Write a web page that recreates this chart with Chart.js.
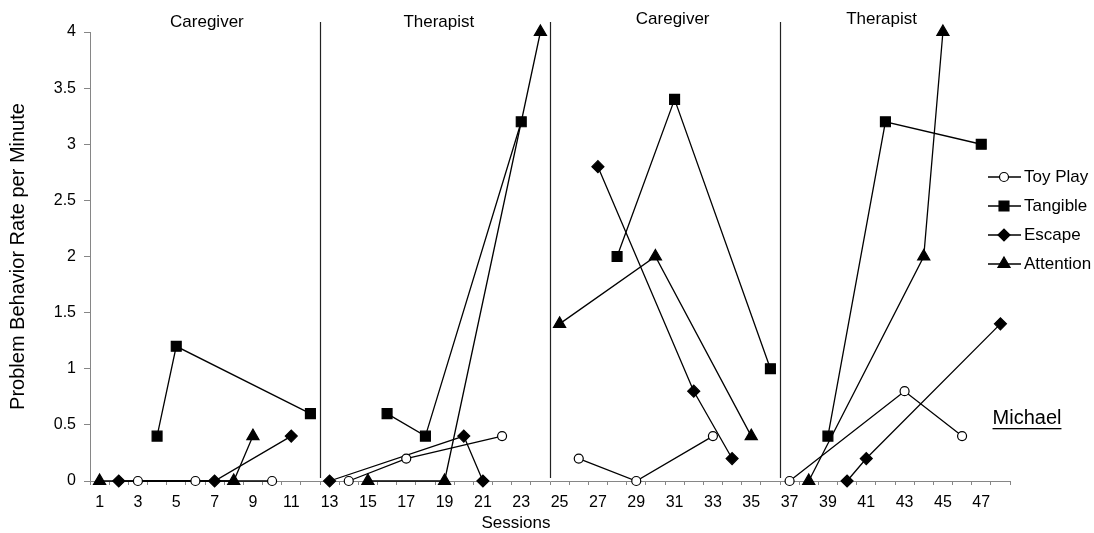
<!DOCTYPE html>
<html>
<head>
<meta charset="utf-8">
<script src="https://cdn.jsdelivr.net/npm/chart.js@4/dist/chart.umd.min.js"></script>
<style>
  html, body { margin: 0; padding: 0; background: #fff; }
  #wrap { width: 1094px; height: 533px; }
</style>
</head>
<body>
<div id="wrap"><canvas id="fa"></canvas></div>
<script>
// Sessions 1-48, four phases of 12 sessions
const sessions = [1, 2, 3, 4, 5, 6, 7, 8, 9, 10, 11, 12, 13, 14, 15, 16, 17, 18, 19, 20, 21, 22, 23, 24,
    25, 26, 27, 28, 29, 30, 31, 32, 33, 34, 35, 36, 37, 38, 39, 40, 41, 42, 43, 44, 45, 46, 47, 48];
const phaseNames = ["Caregiver", "Therapist", "Caregiver", "Therapist"];
const phaseEnds = [12, 24, 36];

const toyPlaySessions = [3, 6, 10, 14, 17, 22, 26, 29, 33, 37, 43, 46];
const toyPlayRates = [0, 0, 0, 0, 0.2, 0.4, 0.2, 0, 0.4, 0, 0.8, 0.4];

const tangibleSessions = [4, 5, 12, 16, 18, 23, 28, 31, 36, 39, 42, 47];
const tangibleRates = [0.4, 1.2, 0.6, 0.6, 0.4, 3.2, 2, 3.4, 1, 0.4, 3.2, 3];

const escapeSessions = [2, 7, 11, 13, 20, 21, 27, 32, 34, 40, 41, 48];
const escapeRates = [0, 0, 0.4, 0, 0.4, 0, 2.8, 0.8, 0.2, 0, 0.2, 1.4];

const attentionSessions = [1, 8, 9, 15, 19, 24, 25, 30, 35, 38, 44, 45];
const attentionRates = [0, 0, 0.4, 0, 0, 4, 1.4, 2, 0.4, 0, 2, 4];

const FONT = "'Liberation Sans', Arial, sans-serif";
const AXIS_GREY = "#868686";

function phaseOf(session) {
    return phaseEnds.filter(e => e < session).length;
}

function toPoints(xs, ys) {
    return xs.map((s, i) => ({ x: s, y: ys[i] }));
}

// no line across a phase change
const hideAcrossPhase = ctx =>
    phaseOf(ctx.p0.parsed.x + 1) !== phaseOf(ctx.p1.parsed.x + 1) ? "rgba(0,0,0,0)" : "#000";

function series(label, xs, ys, style, radius, fill) {
    return {
        label: label,
        data: toPoints(xs, ys),
        borderColor: "#000",
        borderWidth: 1.3,
        pointStyle: style,
        pointRadius: radius,
        pointBackgroundColor: fill,
        pointBorderColor: "#000",
        pointBorderWidth: 1.2,
        clip: false,
        segment: { borderColor: hideAcrossPhase }
    };
}

// phase lines, phase titles, legend, "Michael" and x title
const decorations = {
    id: "decorations",
    afterDatasetsDraw(chart) {
        const { ctx, chartArea, scales: { x } } = chart;
        ctx.save();

        ctx.strokeStyle = "#222";
        ctx.lineWidth = 1.2;
        phaseEnds.forEach(end => {
            const px = Math.round((x.getPixelForValue(end - 1) + x.getPixelForValue(end)) / 2) + 0.5;
            ctx.beginPath();
            ctx.moveTo(px, 22);
            ctx.lineTo(px, chartArea.bottom - 3);
            ctx.stroke();
        });

        ctx.fillStyle = "#000";
        ctx.font = "17px " + FONT;
        ctx.textAlign = "center";
        ctx.textBaseline = "middle";
        const labelAt = [[6.6, 22], [18.7, 22], [30.9, 19], [41.8, 19]];
        phaseNames.forEach((name, i) => {
            ctx.fillText(name, x.getPixelForValue(labelAt[i][0] - 1), labelAt[i][1]);
        });

        ctx.fillText("Sessions", 516, 523);

        // legend
        ctx.textAlign = "left";
        chart.data.datasets.forEach((ds, i) => {
            const y = 177 + i * 29;
            ctx.strokeStyle = "#000";
            ctx.lineWidth = 1.3;
            ctx.beginPath();
            ctx.moveTo(988, y);
            ctx.lineTo(1021, y);
            ctx.stroke();
            ctx.fillStyle = ds.pointBackgroundColor;
            ctx.lineWidth = 1.2;
            Chart.helpers.drawPoint(ctx, {
                pointStyle: ds.pointStyle,
                radius: ds.pointRadius,
                rotation: 0,
                borderWidth: 1.2
            }, 1004, y);
            ctx.fillStyle = "#000";
            ctx.fillText(ds.label, 1024, y);
        });

        ctx.font = "20px " + FONT;
        ctx.textAlign = "center";
        ctx.fillText("Michael", 1027, 418);
        const w = ctx.measureText("Michael").width;
        ctx.fillRect(1027 - w / 2, 428, w, 1.3);

        ctx.restore();
    }
};

new Chart("fa", {
    type: "line",
    data: {
        labels: sessions,
        datasets: [
            series("Toy Play", toyPlaySessions, toyPlayRates, "circle", 4.5, "#fff"),
            series("Tangible", tangibleSessions, tangibleRates, "rect", 7, "#000"),
            series("Escape", escapeSessions, escapeRates, "rectRot", 6, "#000"),
            series("Attention", attentionSessions, attentionRates, "triangle", 7, "#000")
        ]
    },
    options: {
        responsive: true,
        maintainAspectRatio: false,
        animation: false,
        layout: { padding: { top: 32, right: 84, left: 0, bottom: 0 } },
        scales: {
            x: {
                type: "category",
                offset: true,
                afterFit: scale => { scale.height = 52; },
                grid: {
                    display: true,
                    offset: true,
                    drawOnChartArea: false,
                    tickLength: 4,
                    color: AXIS_GREY
                },
                border: { display: true, color: AXIS_GREY, width: 1 },
                ticks: {
                    autoSkip: false,
                    maxRotation: 0,
                    padding: 8,
                    color: "#000",
                    font: { family: FONT, size: 16 },
                    callback: function (value, index) {
                        return index % 2 === 0 ? this.getLabelForValue(value) : "";
                    }
                }
            },
            y: {
                min: 0,
                max: 4,
                afterFit: scale => { scale.width = 90; },
                grid: {
                    drawOnChartArea: false,
                    tickLength: 6,
                    color: AXIS_GREY
                },
                border: { display: true, color: AXIS_GREY, width: 1 },
                ticks: {
                    stepSize: 0.5,
                    padding: 8,
                    color: "#000",
                    font: { family: FONT, size: 16 },
                    callback: value => String(value)
                },
                title: {
                    display: true,
                    text: "Problem Behavior Rate per Minute",
                    color: "#000",
                    font: { family: FONT, size: 20 },
                    padding: { top: 6, bottom: 0 }
                }
            }
        },
        plugins: {
            legend: { display: false },
            tooltip: { enabled: false }
        }
    },
    plugins: [decorations]
});
</script>
</body>
</html>
